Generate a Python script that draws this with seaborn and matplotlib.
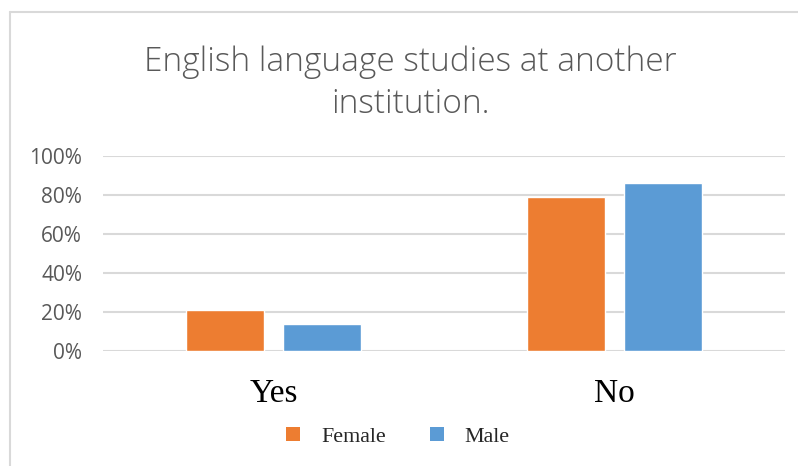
import matplotlib
matplotlib.use("Agg")
import matplotlib.pyplot as plt
from matplotlib.patches import Patch
from matplotlib.lines import Line2D
import seaborn as sns
import pandas as pd

categories = ["Yes", "No"]
female = [0.21, 0.79]
male = [0.14, 0.86]
series_names = ["Female", "Male"]
colors = ["#ED7D31", "#5B9BD5"]
y_ticks = [0, 0.2, 0.4, 0.6, 0.8, 1.0]
y_tick_labels = ["0%", "20%", "40%", "60%", "80%", "100%"]
title_lines = ["English language studies at another", "institution."]

df = pd.DataFrame({
    "answer": categories * 2,
    "gender": [series_names[0]] * 2 + [series_names[1]] * 2,
    "share": female + male,
})

sns.set_theme(style="white")
plt.rcParams["font.family"] = ["Open Sans", "DejaVu Sans"]

W, H = 798, 466
fig = plt.figure(figsize=(W / 100, H / 100), dpi=100)
fig.patch.set_facecolor("white")

# chart frame (top and left edges visible)
fig.add_artist(Line2D([10 / W, 10 / W], [0, 1 - 12 / H], transform=fig.transFigure,
                      color="#D9D9D9", lw=1.5))
fig.add_artist(Line2D([10 / W, 1], [1 - 12 / H, 1 - 12 / H], transform=fig.transFigure,
                      color="#D9D9D9", lw=1.5))

ax = fig.add_axes([103 / W, 1 - 351 / H, 682 / W, 195 / H])
sns.barplot(data=df, x="answer", y="share", hue="gender", palette=colors,
            order=categories, hue_order=series_names, width=0.57, gap=0.2,
            saturation=1, ax=ax, legend=False)

ax.set_ylim(0, 1)
ax.set_xlim(-0.5, 1.5)
ax.set_yticks(y_ticks)
ax.set_yticklabels(y_tick_labels, color="#595959", fontsize=15)
ax.tick_params(axis="y", length=0, pad=15)
ax.tick_params(axis="x", length=0, pad=20)
for lbl in ax.get_xticklabels():
    lbl.set_fontfamily("Liberation Serif")
    lbl.set_fontsize(24)
    lbl.set_color("black")
ax.yaxis.grid(True, color="#D9D9D9", lw=1.5)
ax.set_axisbelow(True)
for s in ax.spines.values():
    s.set_visible(False)
ax.set_xlabel("")
ax.set_ylabel("")

for line, base in zip(title_lines, [71, 113]):
    fig.text(410 / W, 1 - base / H, line, ha="center", va="baseline", fontsize=24,
             color="#595959", fontweight="light")

handles = [Patch(facecolor=c, edgecolor="none") for c in colors]
fig.legend(handles, series_names, loc="center", bbox_to_anchor=(398 / W, 1 - 437 / H),
           ncol=2, frameon=False, handlelength=0.63, handleheight=0.63,
           handletextpad=0.95, columnspacing=2.0, borderpad=0,
           prop={"family": "Liberation Serif", "size": 15.8})

fig.savefig("out.png", dpi=100)
